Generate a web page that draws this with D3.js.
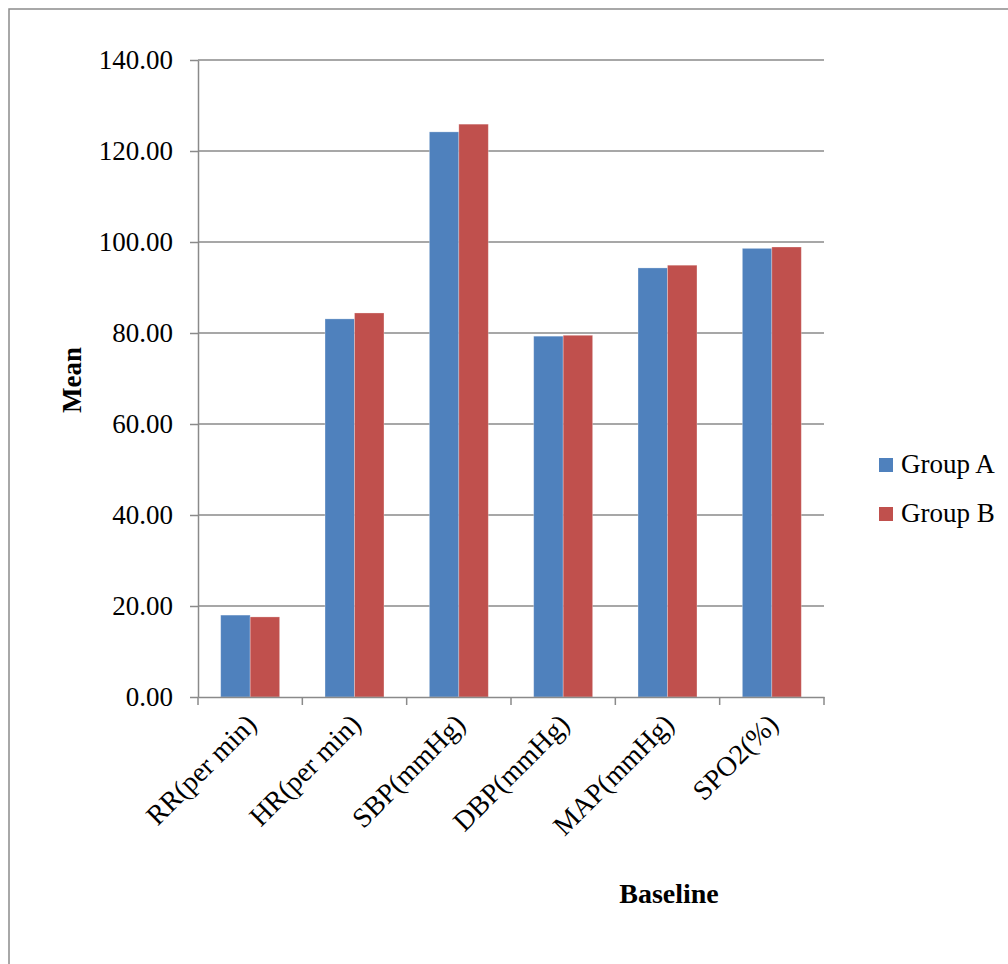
<!DOCTYPE html>
<html><head><meta charset="utf-8">
<script src="https://cdn.jsdelivr.net/npm/d3@7"></script>
<style>body{margin:0;background:#fff}svg{display:block}</style>
</head><body>
<script>
const categories = ["RR(per min)","HR(per min)","SBP(mmHg)","DBP(mmHg)","MAP(mmHg)","SPO2(%)"];
const seriesNames = ["Group A","Group B"];
const groupA = [18.0, 83.1, 124.2, 79.3, 94.3, 98.6];
const groupB = [17.6, 84.4, 125.9, 79.5, 94.9, 98.9];
const yTicks = [0,20,40,60,80,100,120,140];
const colors = ["#4F81BD","#C0504D"];

const W=1008,H=964;
const svg=d3.select("body").append("svg").attr("width",W).attr("height",H);
svg.append("rect").attr("x",9).attr("y",9).attr("width",1010).attr("height",980)
  .attr("fill","none").attr("stroke","#8c8c8c").attr("stroke-width",1.5);

const L=198,R=824,T=60,B=697;
const x=d3.scaleBand().domain(categories).range([L,R]);
const y=d3.scaleLinear().domain([0,140]).range([B,T]);
const xs=d3.scaleBand().domain(seriesNames).range([0,x.bandwidth()]).paddingInner(0).paddingOuter(0.77);
const font="'Liberation Serif', 'DejaVu Serif', serif";

// gridlines
svg.append("g").selectAll("line").data(yTicks.filter(d=>d>0)).join("line")
  .attr("x1",L).attr("x2",R).attr("y1",d=>y(d)).attr("y2",d=>y(d))
  .attr("stroke","#8a8a8a").attr("stroke-width",1.5);

// bars
const data=[groupA,groupB];
seriesNames.forEach((s,si)=>{
  svg.append("g").selectAll("rect").data(categories).join("rect")
    .attr("x",c=>x(c)+xs(s)).attr("width",xs.bandwidth())
    .attr("y",(c,i)=>y(data[si][i])).attr("height",(c,i)=>B-y(data[si][i]))
    .attr("fill",colors[si]).attr("stroke","rgba(255,255,255,0.35)").attr("stroke-width",0.8);
});

// y axis
const ya=svg.append("g").attr("transform",`translate(${L},0)`)
  .call(d3.axisLeft(y).tickValues(yTicks).tickFormat(d3.format(".2f")).tickSize(8).tickSizeOuter(0));
ya.select(".domain").attr("stroke","#8a8a8a").attr("stroke-width",1.5);
ya.selectAll(".tick line").attr("stroke","#8a8a8a").attr("stroke-width",1.5);
ya.selectAll(".tick text").attr("font-family",font).attr("font-size",27).attr("fill","#000").attr("x",-25);

// x axis
const xa=svg.append("g").attr("transform",`translate(0,${B})`)
  .call(d3.axisBottom(x).tickSize(0).tickSizeOuter(0));
xa.select(".domain").attr("stroke","#8a8a8a").attr("stroke-width",1.5);
xa.selectAll(".tick text").remove();
const bounds=categories.map(c=>x(c)).concat([R]);
svg.append("g").selectAll("line").data(bounds).join("line")
  .attr("x1",d=>d).attr("x2",d=>d).attr("y1",B).attr("y2",B+8)
  .attr("stroke","#8a8a8a").attr("stroke-width",1.5);
svg.append("g").selectAll("text").data(categories).join("text")
  .attr("transform",c=>`translate(${x(c)+x.bandwidth()/2+8},${B+29}) rotate(-45)`)
  .attr("text-anchor","end").attr("font-family",font).attr("font-size",28).attr("fill","#000")
  .text(c=>c);

// axis titles
svg.append("text").attr("transform","translate(81,380) rotate(-90)").attr("text-anchor","middle")
  .attr("font-family",font).attr("font-weight","bold").attr("font-size",27).text("Mean");
svg.append("text").attr("x",669).attr("y",903).attr("text-anchor","middle")
  .attr("font-family",font).attr("font-weight","bold").attr("font-size",28).text("Baseline");

// legend
const lg=svg.append("g");
seriesNames.forEach((s,i)=>{
  const yy=458+i*49;
  lg.append("rect").attr("x",879).attr("y",yy).attr("width",14).attr("height",14).attr("fill",colors[i]);
  lg.append("text").attr("x",901).attr("y",yy+15).attr("font-family",font).attr("font-size",27).text(s);
});
</script>
</body></html>
